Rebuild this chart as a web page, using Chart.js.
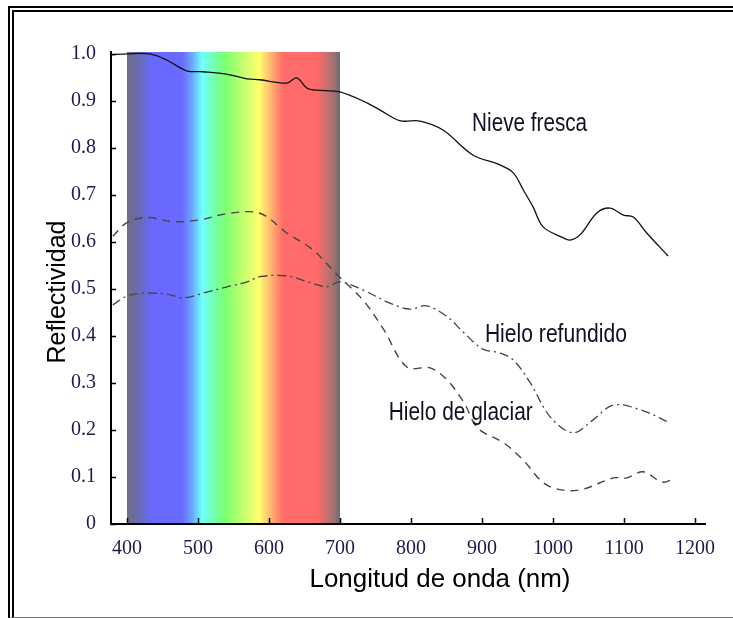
<!DOCTYPE html>
<html>
<head>
<meta charset="utf-8">
<script src="https://cdn.jsdelivr.net/npm/chart.js@4.4.0/dist/chart.umd.min.js"></script>
<style>
  html, body { margin: 0; padding: 0; background: #fff; overflow: hidden; }
  #frame { position: absolute; left: 8px; top: 6px; width: 760px; height: 605px;
           border-left: 6px double #000; border-top: 6px double #000; border-bottom: 1px solid #777; }
  #wrap { position: absolute; left: 0; top: 0; width: 733px; height: 618px; }
</style>
</head>
<body>
<div id="frame"></div>
<div id="wrap"><canvas id="chart" width="733" height="618"></canvas></div>
<script>
// wavelengths (nm) and reflectance
const nieveWl = [377, 400, 432, 456, 484, 507, 540, 569, 587, 625, 639, 655, 681, 700, 732, 756, 784, 813, 845, 887, 925, 944, 958, 972, 986, 1014, 1024, 1038, 1062, 1080, 1099, 1113, 1132, 1162];
const nieveR  = [0.998, 1.0, 1.0, 0.987, 0.964, 0.962, 0.957, 0.947, 0.945, 0.938, 0.949, 0.926, 0.922, 0.919, 0.9, 0.881, 0.858, 0.857, 0.838, 0.785, 0.764, 0.747, 0.711, 0.674, 0.632, 0.609, 0.604, 0.615, 0.662, 0.672, 0.657, 0.653, 0.619, 0.570];

const glaciarWl = [380, 400, 428, 465, 503, 540, 587, 625, 662, 696, 732, 761, 794, 827, 851, 875, 894, 931, 958, 987, 1014, 1042, 1085, 1104, 1127, 1154, 1172];
const glaciarR  = [0.612, 0.641, 0.652, 0.643, 0.647, 0.660, 0.661, 0.619, 0.583, 0.530, 0.477, 0.415, 0.334, 0.332, 0.306, 0.257, 0.204, 0.172, 0.136, 0.087, 0.072, 0.074, 0.098, 0.098, 0.111, 0.089, 0.098];

const refundWl = [380, 400, 423, 456, 479, 507, 540, 569, 587, 625, 653, 681, 700, 732, 770, 798, 822, 851, 873, 901, 925, 944, 968, 996, 1028, 1056, 1085, 1123, 1165];
const refundR  = [0.466, 0.485, 0.491, 0.489, 0.481, 0.491, 0.504, 0.515, 0.526, 0.528, 0.516, 0.505, 0.515, 0.498, 0.470, 0.457, 0.464, 0.441, 0.409, 0.372, 0.364, 0.349, 0.300, 0.228, 0.194, 0.221, 0.253, 0.243, 0.215];

const seriesNames = ['Nieve fresca', 'Hielo de glaciar', 'Hielo refundido'];

const xTicks = [400, 500, 600, 700, 800, 900, 1000, 1100, 1200];
const yTicks = [0, 0.1, 0.2, 0.3, 0.4, 0.5, 0.6, 0.7, 0.8, 0.9, 1.0];
const yTickLabels = ['0', '0.1', '0.2', '0.3', '0.4', '0.5', '0.6', '0.7', '0.8', '0.9', '1.0'];
const visibleRange = [400, 700];

// label placement (data coords) and look
const labelLayout = [
  { wl: 967, r: 0.851, width: 115 },
  { wl: 870, r: 0.236, width: 144 },
  { wl: 1004, r: 0.402, width: 142 }
];

const bandStops = [
  [400, '#6e6e84'], [418, '#6a6ab8'], [435, '#6868ff'], [478, '#6a6aff'],
  [492, '#6aaaff'], [506, '#70ffff'], [522, '#74ffb0'], [540, '#80ff70'],
  [565, '#c8ff70'], [586, '#ffff70'], [604, '#ffb070'], [620, '#ff6a6a'],
  [668, '#ff6a6a'], [688, '#b07070'], [700, '#6e6e6e']
];

function toPoints(wl, r) { return wl.map((w, i) => ({ x: w, y: r[i] })); }

function drawStretched(ctx, text, cx, cy, font, width) {
  ctx.font = font;
  const w = ctx.measureText(text).width;
  ctx.save();
  ctx.translate(cx, cy);
  ctx.scale(width / w, 1);
  ctx.textAlign = 'center';
  ctx.textBaseline = 'middle';
  ctx.fillText(text, 0, 0);
  ctx.restore();
}

const spectrumBand = {
  id: 'spectrumBand',
  beforeDraw(chart) {
    const { ctx, chartArea, scales: { x, y } } = chart;
    const x0 = x.getPixelForValue(visibleRange[0]);
    const x1 = x.getPixelForValue(visibleRange[1]);
    const g = ctx.createLinearGradient(x0, 0, x1, 0);
    bandStops.forEach(([wl, c]) => g.addColorStop((wl - visibleRange[0]) / (visibleRange[1] - visibleRange[0]), c));
    ctx.save();
    ctx.fillStyle = g;
    ctx.fillRect(x0, chartArea.top, x1 - x0, y.getPixelForValue(0) - chartArea.top);
    ctx.restore();
  }
};

const innerTicks = {
  id: 'innerTicks',
  afterDraw(chart) {
    const { ctx, chartArea, scales: { x, y } } = chart;
    ctx.save();
    ctx.strokeStyle = '#000';
    ctx.lineWidth = 1.5;
    ctx.beginPath();
    x.ticks.forEach(t => {
      const px = Math.round(x.getPixelForValue(t.value)) + 0.5;
      ctx.moveTo(px, chartArea.bottom);
      ctx.lineTo(px, chartArea.bottom - 6);
    });
    y.ticks.forEach(t => {
      const py = Math.round(y.getPixelForValue(t.value)) + 0.5;
      ctx.moveTo(chartArea.left, py);
      ctx.lineTo(chartArea.left + 5, py);
    });
    ctx.stroke();
    ctx.restore();
  }
};

const textLayer = {
  id: 'textLayer',
  afterDatasetsDraw(chart) {
    const { ctx, scales: { x, y } } = chart;
    ctx.save();
    ctx.fillStyle = '#111122';
    seriesNames.forEach((name, i) => {
      const l = labelLayout[i];
      drawStretched(ctx, name, x.getPixelForValue(l.wl), y.getPixelForValue(l.r), '26px "Liberation Sans", Arial, sans-serif', l.width);
    });
    ctx.fillStyle = '#000';
    drawStretched(ctx, 'Longitud de onda (nm)', 440, 580, '25px "Liberation Sans", Arial, sans-serif', 261);
    ctx.translate(58, 292);
    ctx.rotate(-Math.PI / 2);
    drawStretched(ctx, 'Reflectividad', 0, 0, '25px "Liberation Sans", Arial, sans-serif', 143);
    ctx.restore();
  }
};

new Chart(document.getElementById('chart'), {
  type: 'line',
  data: {
    datasets: [
      { label: seriesNames[0], data: toPoints(nieveWl, nieveR), borderColor: '#111', borderWidth: 1.3 },
      { label: seriesNames[1], data: toPoints(glaciarWl, glaciarR), borderColor: '#444', borderWidth: 1.4, borderDash: [8, 6] },
      { label: seriesNames[2], data: toPoints(refundWl, refundR), borderColor: '#444', borderWidth: 1.3, borderDash: [9, 4, 2, 4] }
    ]
  },
  options: {
    responsive: false,
    animation: false,
    devicePixelRatio: 1,
    layout: { padding: { left: 0, right: 28, top: 52, bottom: 0 } },
    elements: { point: { radius: 0 }, line: { tension: 0.35, fill: false } },
    plugins: { legend: { display: false }, tooltip: { enabled: false } },
    scales: {
      x: {
        type: 'linear', min: 377.5, max: 1214,
        afterBuildTicks: s => { s.ticks = xTicks.map(v => ({ value: v })); },
        afterFit: s => { s.height = 94; },
        grid: { display: false },
        border: { display: true, color: '#000', width: 2 },
        ticks: { font: { family: '"Liberation Serif", "Times New Roman", serif', size: 20 }, color: '#1c1c4a',
                 padding: 5, maxRotation: 0, autoSkip: false, callback: v => String(v) }
      },
      y: {
        type: 'linear', min: 0, max: 1.004,
        afterBuildTicks: s => { s.ticks = yTicks.map(v => ({ value: v })); },
        afterFit: s => { s.width = 111; },
        grid: { display: false },
        border: { display: true, color: '#000', width: 2 },
        ticks: { font: { family: '"Liberation Serif", "Times New Roman", serif', size: 20 }, color: '#1c1c4a',
                 padding: 7, autoSkip: false, callback: (v, i) => yTickLabels[i] }
      }
    }
  },
  plugins: [spectrumBand, innerTicks, textLayer]
});
</script>
</body>
</html>
